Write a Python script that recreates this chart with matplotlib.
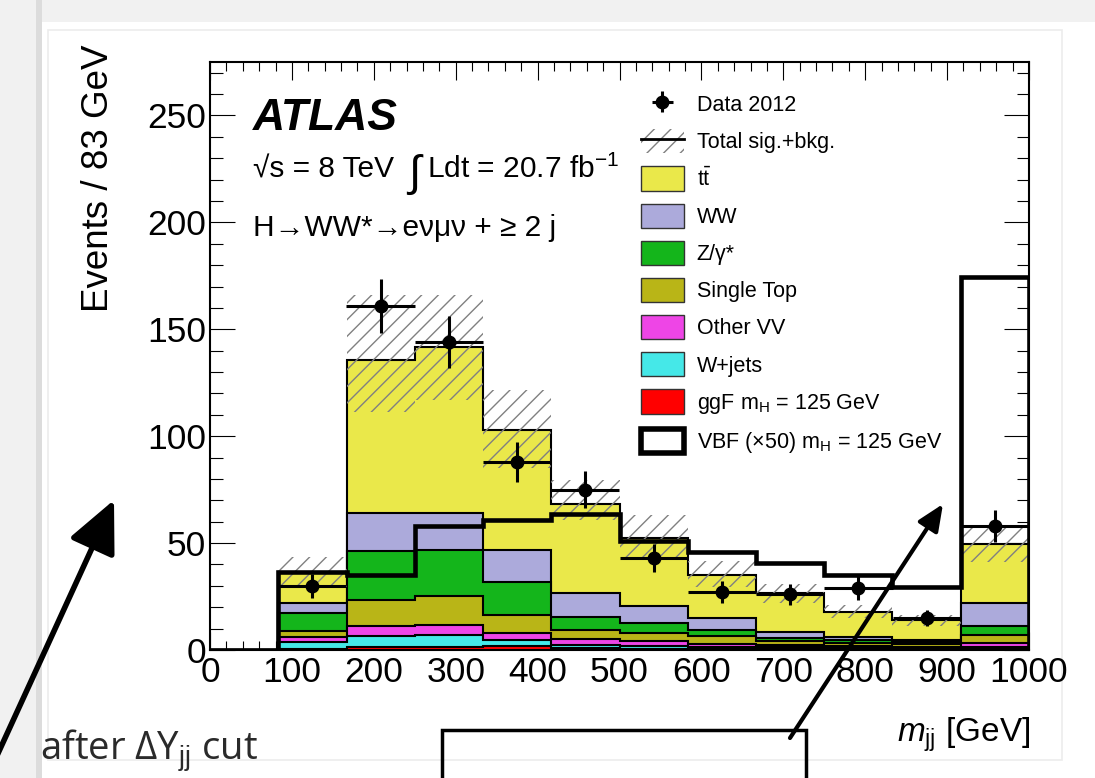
#!/usr/bin/env python
"""ATLAS H->WW* VBF: m_jj distribution after the Delta Y_jj cut (slide screenshot)."""

import matplotlib as mpl
mpl.use('Agg')
import matplotlib.pyplot as plt
from matplotlib.patches import Patch, Rectangle
from matplotlib.lines import Line2D
from matplotlib.ticker import MultipleLocator
import numpy as np

W, H = 1095, 778

plt.rcParams['font.family'] = ['Liberation Sans', 'DejaVu Sans']
plt.rcParams['mathtext.fontset'] = 'custom'
plt.rcParams['mathtext.rm'] = 'Liberation Sans'
plt.rcParams['mathtext.it'] = 'Liberation Sans:italic'
plt.rcParams['mathtext.bf'] = 'Liberation Sans:bold'
plt.rcParams['hatch.linewidth'] = 1.0

# bins of 83 GeV
bin_edges = [0, 83.33, 166.67, 250, 333.33, 416.67, 500, 583.33,
             666.67, 750, 833.33, 916.67, 1000]

# stacked backgrounds, bottom to top (events per bin)
ggf = [0, 0.3, 1.4, 1.4, 1.9, 0.8, 0.6, 0.5, 0.4, 0.3, 0.3, 0.4]
wjets = [0, 3.3, 5.1, 5.6, 3.0, 1.5, 1.2, 1.0, 0.8, 0.7, 0.6, 1.2]
other_vv = [0, 2.6, 4.9, 4.7, 3.1, 2.7, 2.4, 1.5, 1.2, 0.9, 0.7, 1.5]
single_top = [0, 2.8, 11.8, 13.5, 8.2, 4.2, 3.6, 3.7, 1.8, 1.4, 1.0, 3.9]
zgamma = [0, 8.4, 23.2, 21.8, 15.8, 6.3, 4.8, 2.6, 1.6, 1.5, 1.0, 4.4]
ww = [0, 4.6, 17.9, 17.3, 14.8, 11.0, 8.0, 5.5, 2.6, 1.5, 1.2, 10.7]
ttbar = [0, 14.6, 71.5, 77.4, 56.0, 41.7, 31.9, 20.5, 18.2, 11.6, 9.0, 27.4]

# uncertainty band on total sig.+bkg.
band_up = [0, 43.4, 166.2, 166.2, 121.5, 79.4, 63.1, 41.5, 31.1, 21.0, 16.5, 57.7]
band_down = [0, 29.5, 111.4, 117.0, 84.9, 61.0, 43.6, 29.6, 22.0, 15.0, 11.0, 41.3]

# VBF signal scaled x50
vbf_x50 = [0, 36.5, 35.3, 57.8, 60.7, 63.6, 51.0, 45.9, 40.8, 35.0, 29.6, 174.5]

# data 2012 (bin 1 empty, not drawn)
data_x = [125, 208.3, 291.7, 375, 458.3, 541.7, 625, 708.3, 791.7, 875, 958.3]
data_y = [30, 161, 144, 88, 75, 43, 27, 26, 29, 15, 58]
data_err = [5.5, 12.6, 12.0, 9.4, 8.6, 6.5, 5.2, 5.1, 5.4, 3.9, 7.6]

layers = [
    ('ggF m$_{\\mathrm{H}}$ = 125 GeV', ggf, '#ff0000'),
    ('W+jets', wjets, '#45e8e8'),
    ('Other VV', other_vv, '#ee45e6'),
    ('Single Top', single_top, '#b9b517'),
    ('Z/\u03b3*', zgamma, '#14b51b'),
    ('WW', ww, '#acaadb'),
    ('$\\mathrm{t\\bar{t}}$', ttbar, '#eae84a'),
]


def px(x, y):
    """Pixel position on the slide to figure fraction."""
    return x / W, 1 - y / H


fig = plt.figure(figsize=(W / 100, H / 100), dpi=100, facecolor='white')

# slide frame around the plot (kept behind everything)
fig.patches.append(Rectangle((0, 1 - 22 / H), 1, 22 / H, transform=fig.transFigure,
                             facecolor='#f1f1f1', edgecolor='none', zorder=-5))
fig.patches.append(Rectangle((0, 0), 36 / W, 1, transform=fig.transFigure,
                             facecolor='#f1f1f1', edgecolor='none', zorder=-5))
fig.patches.append(Rectangle((36 / W, 0), 6 / W, 1, transform=fig.transFigure,
                             facecolor='#dcdcdc', edgecolor='none', zorder=-5))
fig.patches.append(Rectangle(px(48, 760), (1062 - 48) / W, (760 - 30) / H,
                             transform=fig.transFigure, facecolor='none',
                             edgecolor='#ececec', lw=1.2, zorder=-4))

left, right, top, bottom = 210, 1029, 62, 650
ax = fig.add_axes([left / W, 1 - bottom / H, (right - left) / W, (bottom - top) / H])

edges = np.array(bin_edges)
centers = 0.5 * (edges[1:] + edges[:-1])
widths = np.diff(edges)

# stacked histogram, ROOT style: each cumulative drawn from zero, top first
cum = np.cumsum([np.array(v) for _, v, _ in layers], axis=0)
for i in range(len(layers) - 1, -1, -1):
    ax.stairs(cum[i], edges, baseline=0, fill=True, facecolor=layers[i][2],
              edgecolor='black', lw=1.5, zorder=2)

up = np.array(band_up)
down = np.array(band_down)
ax.bar(centers, up - down, bottom=down, width=widths, fill=False,
       hatch='//', edgecolor='#808080', lw=0, zorder=3)

ax.stairs(vbf_x50, edges, baseline=0, fill=False, color='black', lw=3.3, zorder=4)

data = ax.errorbar(data_x, data_y, yerr=data_err, xerr=widths[0] / 2, fmt='o',
                   color='black', ms=9, elinewidth=2.2, capsize=0, zorder=5)

ax.set_xlim(0, 1000)
ax.set_ylim(0, 275)
ax.xaxis.set_major_locator(MultipleLocator(100))
ax.xaxis.set_minor_locator(MultipleLocator(20))
ax.yaxis.set_major_locator(MultipleLocator(50))
ax.yaxis.set_minor_locator(MultipleLocator(10))
ax.tick_params(axis='both', which='both', direction='in', top=True, right=True,
               width=0.8, labelsize=25.5)
ax.tick_params(axis='y', which='major', length=18, pad=3)
ax.tick_params(axis='y', which='minor', length=9)
ax.tick_params(axis='x', which='major', length=13, pad=4)
ax.tick_params(axis='x', which='minor', length=6.5)
for s in ax.spines.values():
    s.set_linewidth(1.5)

# ATLAS labels
ax.text((253 - left) / 819, (650 - 130) / 588, 'ATLAS', transform=ax.transAxes,
        fontsize=32, fontweight='bold', fontstyle='italic', va='baseline')
ax.text((253 - left) / 819, (650 - 178) / 588, '\u221as = 8 TeV',
        transform=ax.transAxes, fontsize=21.5, va='baseline')
ax.text((408 - left) / 819, (650 - 186) / 588, '\u222b',
        transform=ax.transAxes, fontsize=32, va='baseline')
ax.text((427 - left) / 819, (650 - 178) / 588, 'Ldt = 20.7 fb$^{-1}$',
        transform=ax.transAxes, fontsize=21.5, va='baseline')
ax.text((253 - left) / 819, (650 - 236) / 588,
        'H\u2192WW*\u2192e\u03bd\u03bc\u03bd + \u2265 2 j',
        transform=ax.transAxes, fontsize=21.5, va='baseline')

# legend
handles = [data,
           (Patch(facecolor='none', edgecolor='#808080', hatch='//', lw=0),
            Line2D([], [], color='black', lw=2))]
labels = ['Data 2012', 'Total sig.+bkg.']
for name, _, c in layers[::-1]:
    handles.append(Patch(facecolor=c, edgecolor='#333333', lw=1))
    labels.append(name)
handles.append(Patch(facecolor='white', edgecolor='black', lw=4))
labels.append('VBF (\u00d750) m$_{\\mathrm{H}}$ = 125 GeV')
ax.legend(handles, labels, loc='upper left', bbox_to_anchor=(0.526, 0.949),
          frameon=False, fontsize=15.5, handlelength=2.0, handleheight=1.35,
          handletextpad=0.6, labelspacing=0.6, borderpad=0, borderaxespad=0)

# axis titles
fig.text(*px(99, 44), 'Events / 83 GeV', rotation=90, ha='center', va='top',
         fontsize=26.5)
fig.text(*px(1030, 742), '$m_{\\mathrm{jj}}$ [GeV]', ha='right', va='baseline',
         fontsize=24)

# slide annotations
fig.text(*px(40, 760), 'after \u0394Y$_{\\mathrm{jj}}$ cut', ha='left',
         va='baseline', fontsize=27.5, color='#2a2a2a',
         family=['Open Sans', 'DejaVu Sans'])
fig.patches.append(Rectangle(px(442, 790), (806 - 442) / W, 60 / H,
                             transform=fig.transFigure, facecolor='none',
                             edgecolor='black', lw=2.5, zorder=6))
ax.annotate('', xy=px(114, 500), xycoords='figure fraction',
            xytext=px(-5, 760), textcoords='figure fraction',
            arrowprops=dict(arrowstyle='-|>,head_length=3.2,head_width=1.5',
                            color='black', lw=4, shrinkA=0, shrinkB=0))
ax.annotate('', xy=px(943, 504), xycoords='figure fraction',
            xytext=px(790, 738), textcoords='figure fraction',
            arrowprops=dict(arrowstyle='-|>,head_length=1.6,head_width=0.7',
                            color='black', lw=3, shrinkA=0, shrinkB=0))

fig.savefig('out.png', dpi=100)
